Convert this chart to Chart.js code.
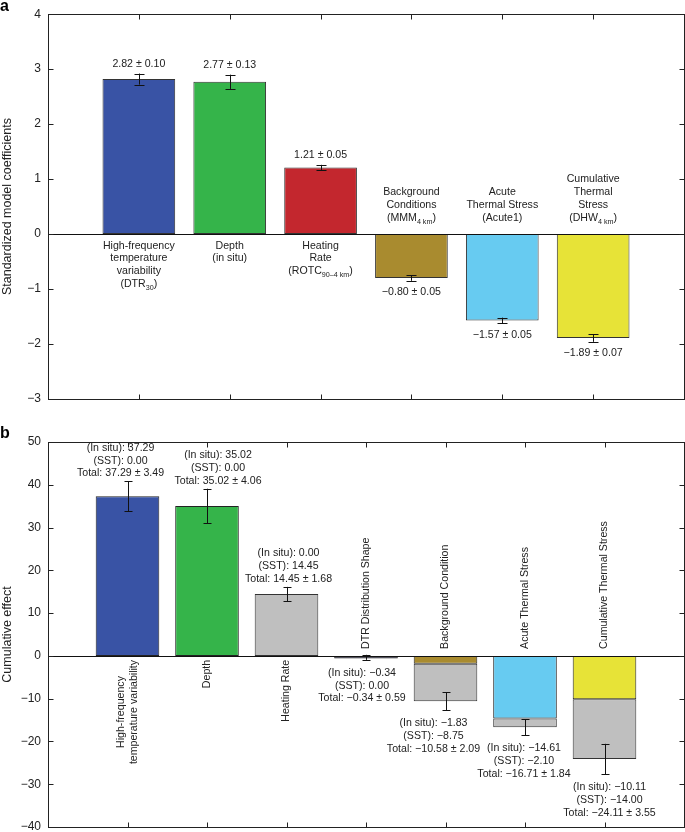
<!DOCTYPE html>
<html>
<head>
<meta charset="utf-8">
<script src="https://cdn.jsdelivr.net/npm/chart.js@4.4.0/dist/chart.umd.min.js"></script>
<style>
  html, body { margin: 0; padding: 0; background: #fff; overflow: hidden; }
  #wrap { position: relative; width: 685px; height: 832px; overflow: hidden; }
  canvas { position: absolute; left: 0; }
  #coef-chart { top: 0; }
  #effect-chart { top: 415px; }
</style>
</head>
<body>
<div id="wrap">
  <canvas id="coef-chart" width="685" height="415"></canvas>
  <canvas id="effect-chart" width="685" height="432"></canvas>
</div>
<script>
// Panel a: standardized model coefficients
const coefLabels = [
    ['High-frequency', 'temperature', 'variability', '(DTR_{30})'],
    ['Depth', '(in situ)'],
    ['Heating', 'Rate', '(ROTC_{90\u20134 km})'],
    ['Background', 'Conditions', '(MMM_{4 km})'],
    ['Acute', 'Thermal Stress', '(Acute1)'],
    ['Cumulative', 'Thermal', 'Stress', '(DHW_{4 km})']
];
const coefValues = [2.82, 2.77, 1.21, -0.80, -1.57, -1.89];
const coefErrors = [0.10, 0.13, 0.05, 0.05, 0.05, 0.07];
const coefColors = ['#3953a5', '#35b44a', '#c3272e', '#a98b2f', '#67cbf1', '#e7e337'];
const coefTicks = [-3, -2, -1, 0, 1, 2, 3, 4];

// Panel b: cumulative effect (in situ part + SST part)
const effectLabels = [
    ['High-frequency', 'temperature variability'],
    ['Depth'],
    ['Heating Rate'],
    ['DTR Distribution Shape'],
    ['Background Condition'],
    ['Acute Thermal Stress'],
    ['Cumulative Thermal Stress']
];
const effectInSitu = [37.29, 35.02, 0.00, -0.34, -1.83, -14.61, -10.11];
const effectSST = [0.00, 0.00, 14.45, 0.00, -8.75, -2.10, -14.00];
const effectTotal = [37.29, 35.02, 14.45, -0.34, -10.58, -16.71, -24.11];
const effectErrors = [3.49, 4.06, 1.68, 0.59, 2.09, 1.84, 3.55];
const effectColors = ['#3953a5', '#35b44a', '#bfbfbf', '#1c1c30', '#a98b2f', '#67cbf1', '#e7e337'];
const sstColor = '#bfbfbf';
const effectTicks = [-40, -30, -20, -10, 0, 10, 20, 30, 40, 50];

const fontFamily = '"Liberation Sans", Arial, Helvetica, sans-serif';
const textColor = '#222';

// Use a real minus sign for negative numbers
const fmt = (v) => (v < 0 ? '\u2212' : '') + Math.abs(v).toFixed(2);
const tickText = (v) => (v < 0 ? '\u2212' + Math.abs(v) : String(v));

// Draw a text line where _{...} marks a subscript, centered on x
function drawRich(ctx, text, x, y, size) {
    const parts = text.split(/_\{([^}]*)\}/);
    const subSize = size * 0.68;
    let total = 0;
    const widths = parts.map((p, i) => {
        ctx.font = `${i % 2 ? subSize : size}px ${fontFamily}`;
        const w = ctx.measureText(p).width;
        total += w;
        return w;
    });
    let cx = x - total / 2;
    ctx.textAlign = 'left';
    ctx.textBaseline = 'alphabetic';
    parts.forEach((p, i) => {
        ctx.font = `${i % 2 ? subSize : size}px ${fontFamily}`;
        ctx.fillText(p, cx, i % 2 ? y + size * 0.3 : y);
        cx += widths[i];
    });
}

function drawErrorBar(ctx, x, top, bottom, cap) {
    const px = Math.round(x) + 0.5;
    ctx.beginPath();
    ctx.moveTo(px, top);
    ctx.lineTo(px, bottom);
    ctx.moveTo(px - cap, Math.round(top) + 0.5);
    ctx.lineTo(px + cap, Math.round(top) + 0.5);
    ctx.moveTo(px - cap, Math.round(bottom) + 0.5);
    ctx.lineTo(px + cap, Math.round(bottom) + 0.5);
    ctx.stroke();
}

function drawZeroLine(chart) {
    const {ctx, chartArea, scales: {y}} = chart;
    const zero = Math.round(y.getPixelForValue(0)) + 0.5;
    ctx.beginPath();
    ctx.moveTo(chartArea.left, zero);
    ctx.lineTo(chartArea.right, zero);
    ctx.stroke();
}

// Box round the plot with inward ticks, plus the panel letter
const framePlugin = {
    id: 'frame',
    afterDraw(chart, args, opts) {
        const {ctx, chartArea: a, scales: {x, y}} = chart;
        const left = Math.round(a.left) + 0.5;
        const top = Math.round(a.top) + 0.5;
        const right = left + Math.round(a.right - a.left);
        const bottom = top + Math.round(a.bottom - a.top);
        const len = 5;
        ctx.save();
        ctx.strokeStyle = textColor;
        ctx.lineWidth = 1;
        ctx.strokeRect(left, top, right - left, bottom - top);
        ctx.beginPath();
        y.ticks.forEach(t => {
            const py = Math.round(y.getPixelForValue(t.value)) + 0.5;
            ctx.moveTo(left, py);
            ctx.lineTo(left + len, py);
            ctx.moveTo(right, py);
            ctx.lineTo(right - len, py);
        });
        for (let i = 1; i <= opts.count; i++) {
            const px = Math.round(x.getPixelForValue(i)) + 0.5;
            ctx.moveTo(px, top);
            ctx.lineTo(px, top + len);
            ctx.moveTo(px, bottom);
            ctx.lineTo(px, bottom - len);
        }
        ctx.stroke();
        ctx.fillStyle = '#000';
        ctx.font = `bold 16px ${fontFamily}`;
        ctx.textAlign = 'left';
        ctx.textBaseline = 'alphabetic';
        ctx.fillText(opts.letter, 0, opts.letterY);
        ctx.restore();
    }
};

const coefAnnotations = {
    id: 'coefAnnotations',
    afterDatasetsDraw(chart) {
        const {ctx, scales: {x, y}} = chart;
        const zero = y.getPixelForValue(0);
        ctx.save();
        ctx.strokeStyle = '#111';
        ctx.lineWidth = 1;
        drawZeroLine(chart);
        ctx.fillStyle = textColor;
        coefValues.forEach((v, i) => {
            const cx = x.getPixelForValue(i + 1);
            const hi = y.getPixelForValue(v + coefErrors[i]);
            const lo = y.getPixelForValue(v - coefErrors[i]);
            drawErrorBar(ctx, cx, hi, lo, 5);

            const label = fmt(v) + ' \u00b1 ' + coefErrors[i].toFixed(2);
            drawRich(ctx, label, cx, v >= 0 ? hi - 7 : lo + 14.5, 10.6);

            const lines = coefLabels[i];
            lines.forEach((line, j) => {
                const ly = v >= 0
                    ? zero + 14.5 + j * 12.7
                    : zero - 13.5 - (lines.length - 1 - j) * 12.7;
                drawRich(ctx, line, cx, ly, 10.6);
            });
        });
        ctx.restore();
    }
};

const effectAnnotations = {
    id: 'effectAnnotations',
    afterDatasetsDraw(chart, args, opts) {
        const {ctx, scales: {x, y}} = chart;
        const zero = y.getPixelForValue(0);
        const size = 10.6;
        const lh = 12.8;
        ctx.save();
        ctx.strokeStyle = '#111';
        ctx.lineWidth = 1;
        drawZeroLine(chart);
        ctx.fillStyle = textColor;
        effectTotal.forEach((v, i) => {
            const cx = x.getPixelForValue(i + 1);
            const hi = y.getPixelForValue(v + effectErrors[i]);
            const lo = y.getPixelForValue(v - effectErrors[i]);
            drawErrorBar(ctx, cx, hi, lo, 4);

            const lines = [
                '(In situ): ' + fmt(effectInSitu[i]),
                '(SST): ' + fmt(effectSST[i]),
                'Total: ' + fmt(v) + ' \u00b1 ' + effectErrors[i].toFixed(2)
            ];
            const tx = cx + opts.shift[i];
            lines.forEach((line, j) => {
                const ly = v >= 0 ? hi - 5 - (lines.length - 1 - j) * lh : lo + 16 + j * lh;
                drawRich(ctx, line, tx, ly, size);
            });

            // vertical category names along the zero line
            const names = effectLabels[i];
            ctx.font = `${size}px ${fontFamily}`;
            const maxW = Math.max(...names.map(n => ctx.measureText(n).width));
            ctx.save();
            ctx.translate(cx, zero);
            ctx.rotate(-Math.PI / 2);
            ctx.textBaseline = 'middle';
            names.forEach((n, j) => {
                const ly = (j - (names.length - 1) / 2) * 13;
                if (v >= 0) {
                    ctx.textAlign = 'center';
                    ctx.fillText(n, -(4 + maxW / 2), ly);
                } else {
                    ctx.textAlign = 'left';
                    ctx.fillText(n, 7, ly);
                }
            });
            ctx.restore();
        });
        ctx.restore();
    }
};

function yAxis(min, max, ticks, title) {
    return {
        min: min,
        max: max,
        afterBuildTicks: (s) => { s.ticks = ticks.map(v => ({ value: v })); },
        afterFit: (s) => { s.width = 48; },
        grid: { display: false, drawTicks: false },
        border: { display: false },
        ticks: {
            padding: 7,
            color: textColor,
            font: { size: 12, family: fontFamily },
            callback: (v) => tickText(v)
        },
        title: {
            display: true,
            text: title,
            color: textColor,
            padding: 0,
            font: { size: 12.5, family: fontFamily }
        }
    };
}

function xAxis(count, stacked) {
    return {
        type: 'linear',
        min: 0,
        max: count + 1,
        offset: false,
        display: false,
        stacked: stacked,
        ticks: { stepSize: 1 }
    };
}

const toPoints = (arr) => arr.map((v, i) => ({ x: i + 1, y: v === 0 ? null : v }));

new Chart(document.getElementById('coef-chart'), {
    type: 'bar',
    data: {
        datasets: [{
            data: toPoints(coefValues),
            backgroundColor: coefColors,
            borderColor: '#333',
            borderWidth: 1,
            borderSkipped: false,
            barPercentage: 0.8,
            categoryPercentage: 1.0
        }]
    },
    options: {
        responsive: false,
        animation: false,
        devicePixelRatio: 1,
        layout: { padding: { top: 13, right: 1, bottom: 16, left: 0 } },
        plugins: {
            legend: { display: false },
            tooltip: { enabled: false },
            frame: { letter: 'a', letterY: 11, count: coefValues.length }
        },
        scales: {
            x: xAxis(coefValues.length, false),
            y: yAxis(-3, 4, coefTicks, 'Standardized model coefficients')
        }
    },
    plugins: [coefAnnotations, framePlugin]
});

new Chart(document.getElementById('effect-chart'), {
    type: 'bar',
    data: {
        datasets: [{
            label: 'In situ',
            data: toPoints(effectInSitu),
            backgroundColor: effectColors,
            borderColor: '#222',
            borderWidth: 1,
            borderSkipped: false,
            minBarLength: 2.5,
            barPercentage: 0.8,
            categoryPercentage: 1.0
        }, {
            label: 'SST',
            data: toPoints(effectSST),
            backgroundColor: sstColor,
            borderColor: '#333',
            borderWidth: 1,
            borderSkipped: false,
            barPercentage: 0.8,
            categoryPercentage: 1.0
        }]
    },
    options: {
        responsive: false,
        animation: false,
        devicePixelRatio: 1,
        layout: { padding: { top: 27, right: 1, bottom: 20, left: 0 } },
        plugins: {
            legend: { display: false },
            tooltip: { enabled: false },
            frame: { letter: 'b', letterY: 23, count: effectTotal.length },
            effectAnnotations: { shift: [-7, 11, 2, -4, -12, -1, 5] }
        },
        scales: {
            x: xAxis(effectTotal.length, true),
            y: Object.assign(yAxis(-40, 50, effectTicks, 'Cumulative effect'), { stacked: true })
        }
    },
    plugins: [effectAnnotations, framePlugin]
});
</script>
</body>
</html>
